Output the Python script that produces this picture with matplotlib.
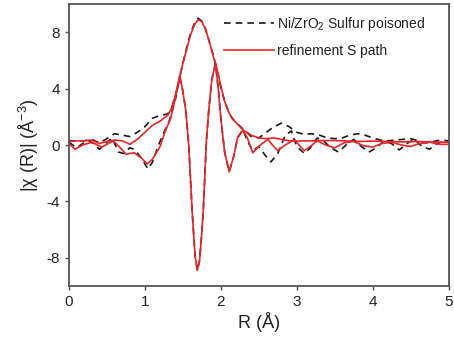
import matplotlib
matplotlib.use("Agg")
import matplotlib.pyplot as plt

plt.rcParams['font.family'] = ['Liberation Sans', 'DejaVu Sans']
plt.rcParams['axes.unicode_minus'] = False
plt.rcParams['mathtext.fontset'] = 'custom'
plt.rcParams['mathtext.rm'] = 'Liberation Sans'
plt.rcParams['mathtext.it'] = 'Liberation Sans:italic'
plt.rcParams['mathtext.default'] = 'regular'

# Experimental data: magnitude
R_dm = [0.0, 0.1, 0.2, 0.3, 0.4, 0.5, 0.6, 0.7, 0.8, 0.9, 1.0, 1.1, 1.2, 1.3, 1.35, 1.4, 1.45, 1.5, 1.55, 1.6,
        1.65, 1.7, 1.75, 1.8, 1.85, 1.9, 1.95, 2.0, 2.05, 2.1, 2.15, 2.2, 2.25, 2.3, 2.4, 2.5, 2.6, 2.7, 2.8, 2.9,
        3.0, 3.1, 3.2, 3.3, 3.4, 3.5, 3.6, 3.7, 3.8, 3.9, 4.0, 4.1, 4.2, 4.3, 4.4, 4.5, 4.6, 4.7, 4.8, 4.9, 5.0]
V_dm = [0.3, 0.3, 0.3, 0.4, 0.15, 0.45, 0.8, 0.7, 0.6, 0.9, 1.3, 1.9, 2.1, 2.2, 2.6, 3.4, 4.6, 5.8, 6.9, 7.9,
        8.6, 9.0, 8.8, 8.2, 7.3, 6.4, 5.3, 4.1, 3.1, 2.4, 1.9, 1.6, 1.35, 1.1, 0.6, 0.5, 0.9, 1.3, 1.55, 1.3,
        0.9, 0.75, 0.8, 0.7, 0.5, 0.45, 0.5, 0.7, 0.8, 0.7, 0.5, 0.35, 0.3, 0.35, 0.4, 0.45, 0.3, 0.15, 0.25, 0.35, 0.3]

# Experimental data: imaginary part
R_di = [0.0, 0.1, 0.18, 0.25, 0.32, 0.4, 0.5, 0.57, 0.65, 0.72, 0.8, 0.86, 0.95, 1.04, 1.1, 1.18, 1.25, 1.32,
        1.4, 1.46, 1.5, 1.54, 1.58, 1.62, 1.66, 1.69, 1.72, 1.75, 1.77, 1.81, 1.84, 1.88, 1.93, 1.97, 2.0, 2.05,
        2.11, 2.17, 2.22, 2.29, 2.35, 2.42, 2.5, 2.58, 2.66, 2.75, 2.85, 2.93, 3.0, 3.1, 3.18, 3.27, 3.35, 3.45,
        3.55, 3.65, 3.75, 3.85, 3.95, 4.05, 4.15, 4.25, 4.35, 4.45, 4.55, 4.65, 4.75, 4.85, 4.95, 5.0]
V_di = [0.2, -0.2, 0.1, 0.35, 0.1, -0.3, 0.2, 0.5, -0.5, -0.6, -0.2, -0.3, -0.9, -1.7, -1.2, 0.0, 0.9, 1.7,
        3.2, 4.8, 3.8, 2.4, -0.2, -4.5, -7.8, -8.9, -8.2, -6.2, -4.5, 0.3, 2.4, 4.6, 5.8, 3.8, 1.9, -0.5,
        -1.9, -0.8, 0.5, 1.1, 0.3, -0.4, -0.1, -0.7, -1.2, -0.6, 0.7, 1.0, -0.1, -0.6, -0.2, 0.5, 0.3, -0.2,
        -0.5, 0.0, 0.4, -0.1, -0.5, -0.2, 0.3, 0.1, -0.35, 0.1, 0.4, -0.1, -0.3, 0.1, 0.3, 0.2]

# Fit: magnitude
R_fm = [0.0, 0.1, 0.2, 0.3, 0.4, 0.5, 0.6, 0.7, 0.8, 0.9, 1.0, 1.1, 1.2, 1.3, 1.35, 1.4, 1.45, 1.5, 1.55, 1.6,
        1.65, 1.7, 1.75, 1.8, 1.85, 1.9, 1.95, 2.0, 2.05, 2.1, 2.15, 2.2, 2.25, 2.3, 2.4, 2.5, 2.6, 2.7, 2.8, 2.9,
        3.0, 3.2, 3.4, 3.6, 3.8, 4.0, 4.2, 4.4, 4.6, 4.8, 5.0]
V_fm = [0.25, 0.3, 0.3, 0.35, 0.1, 0.25, 0.35, 0.3, 0.05, 0.4, 0.9, 1.4, 1.7, 2.1, 2.6, 3.5, 4.7, 5.8, 6.8, 7.8,
        8.5, 8.9, 8.75, 8.2, 7.3, 6.3, 5.4, 4.2, 3.1, 2.4, 1.85, 1.6, 1.3, 1.05, 0.7, 0.5, 0.45, 0.5, 0.4, 0.3,
        0.28, 0.3, 0.32, 0.3, 0.25, 0.28, 0.25, 0.22, 0.25, 0.2, 0.2]

# Fit: imaginary part
R_fi = [0.0, 0.08, 0.18, 0.3, 0.43, 0.5, 0.58, 0.66, 0.75, 0.86, 0.95, 1.03, 1.1, 1.2, 1.27, 1.34, 1.4, 1.46,
        1.5, 1.54, 1.58, 1.62, 1.66, 1.69, 1.72, 1.75, 1.77, 1.81, 1.84, 1.88, 1.93, 1.97, 2.0, 2.05, 2.11, 2.17,
        2.22, 2.29, 2.35, 2.42, 2.52, 2.62, 2.68, 2.75, 2.85, 2.97, 3.03, 3.1, 3.18, 3.27, 3.38, 3.5, 3.62,
        3.75, 3.88, 4.0, 4.12, 4.25, 4.38, 4.5, 4.62, 4.75, 4.88, 5.0]
V_fi = [0.1, -0.3, 0.0, 0.2, -0.15, 0.05, 0.3, -0.1, -0.65, -0.55, -0.9, -1.35, -1.0, -0.1, 1.0, 1.9, 3.3, 4.9,
        3.8, 2.4, -0.2, -4.5, -7.8, -8.9, -8.2, -6.2, -4.5, 0.3, 2.4, 4.6, 5.8, 3.8, 1.9, -0.5, -1.9, -0.8,
        0.5, 1.05, 0.5, -0.55, 0.0, 0.4, 0.0, -0.4, 0.0, 0.4, 0.0, -0.4, -0.1, 0.3, 0.0, -0.2, 0.15,
        0.25, -0.05, -0.15, 0.1, 0.2, 0.0, -0.1, 0.1, 0.2, 0.05, 0.05]

x_ticks = [0, 1, 2, 3, 4, 5]
y_ticks = [-8, -4, 0, 4, 8]

fig = plt.figure(figsize=(4.54, 3.40), dpi=100)
ax = fig.add_axes([0.152, 0.159, 0.836, 0.829])

black = '#1a1a1a'
red = '#e8252b'
ax.plot(R_dm, V_dm, color=black, lw=1.2, ls=(0, (4, 3)), label='Ni/ZrO$_2$ Sulfur poisoned')
ax.plot(R_di, V_di, color=black, lw=1.2, ls=(0, (4, 3)))
ax.plot(R_fm, V_fm, color=red, lw=1.2, label='refinement S path')
ax.plot(R_fi, V_fi, color=red, lw=1.2)

ax.set_xlim(0, 5)
ax.set_ylim(-10, 10)
ax.set_xticks(x_ticks)
ax.set_yticks(y_ticks)
ax.tick_params(direction='out', length=3, width=1, colors='#555555', labelcolor='#222222', labelsize=11)
for s in ax.spines.values():
    s.set_color('#555555')
    s.set_linewidth(1.3)

ax.set_xlabel('R (Å)', fontsize=13, color='#222222', labelpad=2)
ax.set_ylabel('|χ (R)| (Å$^{-3}$)', fontsize=13, color='#222222', labelpad=4)

leg = ax.legend(loc='upper right', bbox_to_anchor=(0.96, 0.99), frameon=False, fontsize=10,
                handlelength=3.6, handletextpad=0.2, borderaxespad=0.2, labelspacing=0.8)
for t in leg.get_texts():
    t.set_color('#222222')

fig.savefig('out.png', dpi=100)
